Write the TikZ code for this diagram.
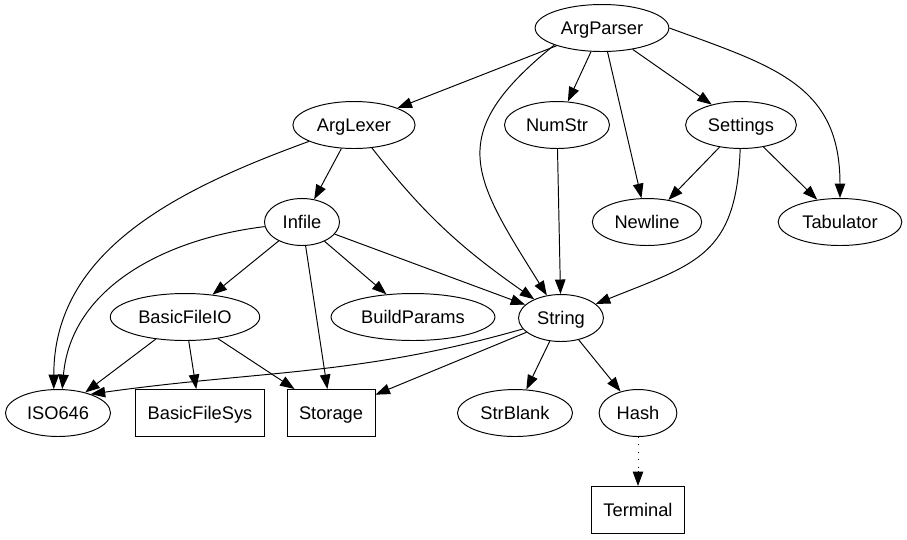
\documentclass[tikz,border=0pt]{standalone}
\usepackage{fontspec}
\setmainfont{Liberation Sans}
\usetikzlibrary{arrows.meta,shapes.geometric}

\begin{document}
\begin{tikzpicture}[x=0.02cm, y=0.02cm, >={Triangle[length=0.29cm, width=0.21cm]},
  line width=0.55pt,
  mod/.style={draw, ellipse, minimum width=1.5cm, minimum height=0.94cm,
    inner xsep=3.5pt, inner ysep=1pt, text height=7.5pt, text depth=0pt,
    font=\fontsize{10.4}{12}\selectfont},
  file/.style={draw, rectangle, minimum width=1.5cm, minimum height=0.94cm,
    inner xsep=0.24cm, text height=7.5pt, text depth=0pt,
    font=\fontsize{10.4}{12}\selectfont}]

\useasboundingbox (0,0) rectangle (907,-539);

% Modules (ellipses) and plain files (boxes), row by row
\node[mod]  (AP)  at (602,-28)  {ArgParser};

\node[mod]  (AL)  at (354,-125) {ArgLexer};
\node[mod]  (NS)  at (557,-125) {NumStr};
\node[mod]  (SE)  at (741,-125) {Settings};

\node[mod]  (IF)  at (302,-222) {Infile};
\node[mod]  (NL)  at (647,-222) {Newline};
\node[mod]  (TB)  at (840,-222) {Tabulator};

\node[mod]  (BIO) at (185,-317) {BasicFileIO};
\node[mod]  (BP)  at (413,-317) {BuildParams};
\node[mod]  (STR) at (561,-318) {String};

\node[mod]  (ISO) at (58,-413)  {ISO646};
\node[file] (BFS) at (200,-413) {BasicFileSys};
\node[file] (STO) at (331,-413) {Storage};
\node[mod]  (SB)  at (515,-413) {StrBlank};
\node[mod]  (HS)  at (638,-413) {Hash};

\node[file] (TM)  at (638,-510) {Terminal};

% ArgParser
\draw[->] (AP) to (AL);
\draw[->] (AP) to (NS);
\draw[->] (AP) to (SE);
\draw[->] (AP) to (NL);
\draw[->] (AP.east) to[out=-20, in=90, looseness=1.2] (TB);
\draw[->] (AP.south west) to[out=219, in=122, looseness=1.45] (STR);

% ArgLexer
\draw[->] (AL) to (IF);
\draw[->] (AL) to[out=-52, in=145] (STR);
\draw[->] (AL) to[out=200, in=90] (ISO.100);

% NumStr and Settings
\draw[->] (NS) to (STR);
\draw[->] (SE) to (NL);
\draw[->] (SE) to (TB);
\draw[->] (SE) to[out=-92, in=22, looseness=1.3] (STR);

% Infile
\draw[->] (IF) to (BIO);
\draw[->] (IF) to (BP);
\draw[->] (IF) to (STR);
\draw[->] (IF) to (STO);
\draw[->] (IF) to[out=187, in=85] (ISO.80);

% BasicFileIO
\draw[->] (BIO) to (ISO);
\draw[->] (BIO) to (BFS);
\draw[->] (BIO) to (STO);

% String
\draw[->] (STR) to (SB);
\draw[->] (STR) to (HS);
\draw[->] (STR) to (STO);
\draw[->] (STR) to[out=196, in=8] (ISO.30);

% Hash: dotted line with a solid head
\coordinate (TMhead) at ([yshift=0.31cm]TM.north);
\draw[-{Triangle[length=0.29cm, width=0.21cm, fill=black]}] (HS) to (TM);
\draw[white, line width=1.2pt, shorten <=0.5pt] (HS) to (TMhead);
\draw[dash pattern=on 0.6pt off 3.6pt] (HS) to (TMhead);

\end{tikzpicture}
\end{document}
